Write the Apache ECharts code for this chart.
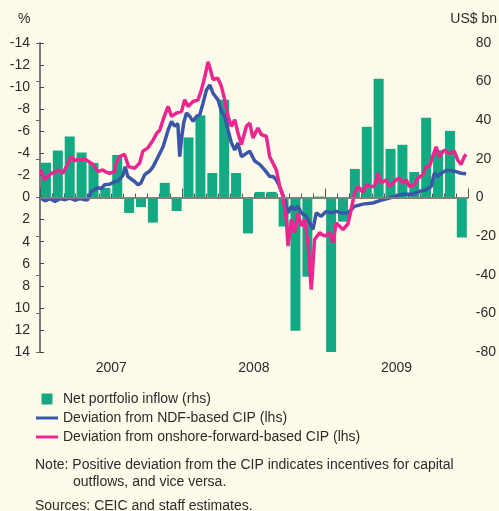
<!DOCTYPE html>
<html lang="en">
<head>
    <meta charset="UTF-8">
    <title>CIP deviation and net portfolio inflow</title>
    <script src="https://cdn.jsdelivr.net/npm/echarts@6/dist/echarts.min.js"></script>
    <style>
        html, body { margin: 0; padding: 0; background: #FEFBEA; }
        #chart { width: 499px; height: 511px; }
    </style>
</head>
<body>
    <div id="chart"></div>

    <script>
        // x positions are months since Jan 2007 (0 = start of 2007, 36 = end of 2009)
        const yearLabels = { 6: '2007', 18: '2008', 30: '2009' };

        // monthly net portfolio inflow, US$ bn (rhs), Jan 2007 .. Dec 2009
        const inflow = [
            18, 24.3, 31.6, 23.3, 17.9, 5, 22, -8, -5, -13, 7.6, -7,
            31.1, 42.5, 12.7, 50.6, 12.7, -18.6, 2.9, 2.9, -15, -69, -41, 0.5,
            -80, -12.5, 14.8, 36.6, 61.5, 25.2, 27.3, 13.2, 41.3, 24.5, 34.5, -20.7
        ];

        // deviation from NDF-based CIP, % (lhs)
        const ndfX = [
            0.06, 0.42, 0.84, 1.26, 1.68, 2.10, 2.52, 2.94, 3.36, 3.78, 4.03, 4.31, 4.62, 4.87, 5.13,
            5.44, 5.88, 6.28, 6.55, 6.81, 6.97, 7.17, 7.39, 7.65, 7.96, 8.24, 8.49, 8.80, 8.97, 9.24,
            9.52, 9.94, 10.36, 10.78, 11.07, 11.34, 11.60, 11.76, 11.93, 12.10, 12.33, 12.61, 12.88,
            13.17, 13.45, 13.72, 14.01, 14.29, 14.56, 14.98, 15.27, 15.55, 15.82, 16.11, 16.39, 16.66,
            16.95, 17.37, 17.65, 18.07, 18.49, 18.91, 19.33, 19.61, 19.89, 20.17, 20.59, 20.87, 21.15,
            21.43, 21.71, 21.99, 22.41, 22.69, 22.97, 23.25, 23.67, 24.09, 24.51, 24.93, 25.35, 25.91,
            26.05, 26.47, 27.17, 28.01, 28.85, 29.69, 30.53, 31.37, 32.08, 32.50, 32.92, 33.19, 33.47,
            33.76, 34.17, 34.59, 35.01, 35.44, 35.86
        ];
        const ndfY = [
            0.05, 0.3, 0.1, 0.35, 0.1, 0.2, 0.05, 0.25, 0.1, 0.2, 0.2, -0.55, -0.7, -0.9, -0.8,
            -1.15, -1.2, -1.45, -1.5, -1.8, -2.0, -2.8, -1.9, -1.7, -1.45, -1.15, -1.3, -2.05, -2.2, -2.4,
            -2.8, -3.7, -4.6, -6.1, -6.9, -6.45, -6.7, -3.7, -5.5, -6.8, -7.65, -7.35, -6.9,
            -7.35, -7.5, -8.55, -9.75, -10.2, -9.45, -8.85, -7.8, -7.35, -6.15, -4.95, -4.3, -4.95,
            -3.7, -4.0, -4.2, -3.3, -3.0, -2.5, -1.9, -1.9, -1.6, -1.0, 0.2, 1.4, 0.8,
            1.1, 0.8, 1.4, 1.7, 2.3, 2.9, 1.4, 1.7, 1.25, 1.4, 1.25, 1.4, 1.4,
            1.4, 0.8, 0.6, 0.5, 0.2, -0.05, -0.3, -0.3, -0.6, -0.7, -1.0, -2.2, -1.9,
            -2.2, -2.45, -2.45, -2.35, -2.2, -2.15
        ];

        // deviation from onshore-forward-based CIP, % (lhs)
        const onshoreX = [
            0.06, 0.39, 0.67, 0.95, 1.26, 1.51, 1.93, 2.35, 2.63, 2.92, 3.19, 3.47, 3.78, 4.03, 4.45,
            4.87, 5.29, 5.55, 5.86, 6.28, 6.41, 6.70, 7.12, 7.45, 7.96, 8.38, 8.66, 9.08, 9.52, 9.81,
            10.08, 10.36, 10.78, 11.07, 11.49, 11.91, 12.18, 12.46, 12.88, 13.30, 13.59, 13.87, 14.14,
            14.34, 14.56, 14.98, 15.27, 15.55, 15.82, 16.11, 16.39, 16.66, 16.95, 17.37, 17.65, 17.92,
            18.34, 18.63, 19.05, 19.33, 19.61, 19.89, 20.17, 20.45, 20.73, 20.87, 21.15, 21.43, 21.71,
            21.99, 22.27, 22.55, 22.83, 23.11, 23.53, 23.95, 24.37, 24.65, 24.93, 25.21, 25.49, 25.91,
            26.19, 26.47, 26.75, 27.17, 27.45, 27.87, 28.15, 28.43, 28.71, 29.13, 29.41, 29.69, 29.97,
            30.25, 30.53, 30.82, 31.09, 31.51, 31.79, 32.21, 32.50, 32.77, 33.05, 33.34, 33.61, 34.03,
            34.45, 34.87, 35.15, 35.44, 35.71, 35.86
        ];
        const onshoreY = [
            -2.5, -1.6, -1.9, -2.2, -2.3, -2.5, -2.2, -3.1, -3.7, -3.3, -3.5, -3.4, -3.5, -3.3, -3.0,
            -2.35, -2.5, -2.3, -2.2, -2.35, -3.1, -3.7, -3.9, -2.8, -2.65, -3.1, -4.2, -4.5, -5.2, -5.8,
            -6.1, -7.05, -8.25, -7.35, -7.65, -7.8, -8.85, -8.25, -8.7, -8.85, -9.75, -10.95, -12.3,
            -11.6, -10.7, -10.8, -10.05, -8.85, -7.35, -6.45, -7.05, -5.85, -4.8, -6.45, -6.75, -5.4,
            -6.3, -5.7, -5.55, -3.7, -3.1, -2.5, -1.0, -0.1, 2.0, 4.4, 2.0, 3.2, 1.4,
            2.6, 2.0, 4.1, 8.35, 3.8, 3.2, 3.5, 3.2, 4.1, 2.3, 2.6, 2.9, 2.4,
            1.1, -0.4, -1.0, -0.5, -1.1, -1.0, -1.0, -2.2, -1.3, -1.6, -1.0, -1.3, -1.6,
            -1.75, -1.3, -1.6, -1.0, -1.15, -1.75, -2.05, -2.8, -2.8, -3.7, -4.6, -3.7, -4.3,
            -4.0, -4.2, -3.4, -3.0, -3.7, -3.9
        ];

        const font = 'Liberation Sans';
        const textColor = '#2b2b2b';

        const chart = echarts.init(document.getElementById('chart'));

        chart.setOption({
            backgroundColor: '#FEFBEA',
            animation: false,
            textStyle: { fontFamily: font, color: textColor },
            grid: { left: 40, right: 31, top: 43, bottom: 159, containLabel: false },
            xAxis: [
                {
                    type: 'value',
                    min: 0,
                    max: 36,
                    interval: 1,
                    axisLine: { lineStyle: { color: '#333', width: 1.5 } },
                    axisTick: { inside: true, length: 4, lineStyle: { color: '#555' } },
                    axisLabel: {
                        margin: 9,
                        fontSize: 14,
                        color: textColor,
                        fontFamily: font,
                        formatter: v => yearLabels[v] || ''
                    },
                    splitLine: { show: false }
                },
                {
                    type: 'value',
                    position: 'bottom',
                    min: 0,
                    max: 36,
                    interval: 12,
                    axisLine: { show: false },
                    axisTick: { inside: true, length: 9, lineStyle: { color: '#555' } },
                    axisLabel: { show: false },
                    splitLine: { show: false }
                }
            ],
            yAxis: [
                {
                    type: 'value',
                    inverse: true,
                    min: -14,
                    max: 14,
                    interval: 2,
                    position: 'left',
                    axisLine: { show: true, lineStyle: { color: '#222', width: 1.5 } },
                    axisTick: { show: true, inside: true, length: 4, lineStyle: { color: '#444' } },
                    axisLabel: { margin: 10, fontSize: 14, color: textColor, fontFamily: font },
                    splitLine: { show: false }
                },
                {
                    type: 'value',
                    min: -80,
                    max: 80,
                    interval: 20,
                    position: 'right',
                    axisLine: { show: true, lineStyle: { color: '#888', width: 1.5 } },
                    axisTick: { show: true, inside: true, length: 4, lineStyle: { color: '#666' } },
                    axisLabel: { margin: 8, fontSize: 14, color: textColor, fontFamily: font },
                    splitLine: { show: false }
                }
            ],
            legend: {
                orient: 'vertical',
                left: 36,
                top: 392,
                padding: 0,
                itemWidth: 22,
                itemHeight: 11,
                itemGap: 5,
                symbolKeepAspect: true,
                textStyle: { fontSize: 14, color: textColor, fontFamily: font },
                data: [
                    { name: 'Net portfolio inflow (rhs)', icon: 'path://M0,0H10V10H0Z' },
                    { name: 'Deviation from NDF-based CIP (lhs)', icon: 'path://M0,0H22V3H0Z' },
                    { name: 'Deviation from onshore-forward-based CIP (lhs)', icon: 'path://M0,0H22V3H0Z' }
                ]
            },
            graphic: [
                { type: 'text', left: 18, top: 12, style: { text: '%', font: '14px ' + font, fill: textColor } },
                { type: 'text', right: 2, top: 12, style: { text: 'US$ bn', font: '14px ' + font, fill: textColor } },
                {
                    type: 'text', left: 35, top: 458,
                    style: { text: 'Note: Positive deviation from the CIP indicates incentives for capital', font: '14px ' + font, fill: textColor }
                },
                {
                    type: 'text', left: 73, top: 475,
                    style: { text: 'outflows, and vice versa.', font: '14px ' + font, fill: textColor }
                },
                {
                    type: 'text', left: 35, top: 499,
                    style: { text: 'Sources: CEIC and staff estimates.', font: '14px ' + font, fill: textColor }
                }
            ],
            series: [
                {
                    name: 'Net portfolio inflow (rhs)',
                    type: 'bar',
                    xAxisIndex: 0,
                    yAxisIndex: 1,
                    barWidth: 10,
                    itemStyle: { color: '#12A983' },
                    data: inflow.map((v, i) => [i + 0.5, v]),
                    markLine: {
                        silent: true,
                        symbol: 'none',
                        label: { show: false },
                        lineStyle: { color: '#8a8a80', width: 1.5, type: 'solid' },
                        data: [{ yAxis: 0 }]
                    }
                },
                {
                    name: 'Deviation from NDF-based CIP (lhs)',
                    type: 'line',
                    xAxisIndex: 0,
                    yAxisIndex: 0,
                    showSymbol: false,
                    lineStyle: { color: '#3A57A7', width: 3.5 },
                    itemStyle: { color: '#3A57A7' },
                    data: ndfX.map((x, i) => [x, ndfY[i]])
                },
                {
                    name: 'Deviation from onshore-forward-based CIP (lhs)',
                    type: 'line',
                    xAxisIndex: 0,
                    yAxisIndex: 0,
                    showSymbol: false,
                    lineStyle: { color: '#EC2690', width: 3.5 },
                    itemStyle: { color: '#EC2690' },
                    data: onshoreX.map((x, i) => [x, onshoreY[i]])
                }
            ]
        });
    </script>
</body>
</html>
